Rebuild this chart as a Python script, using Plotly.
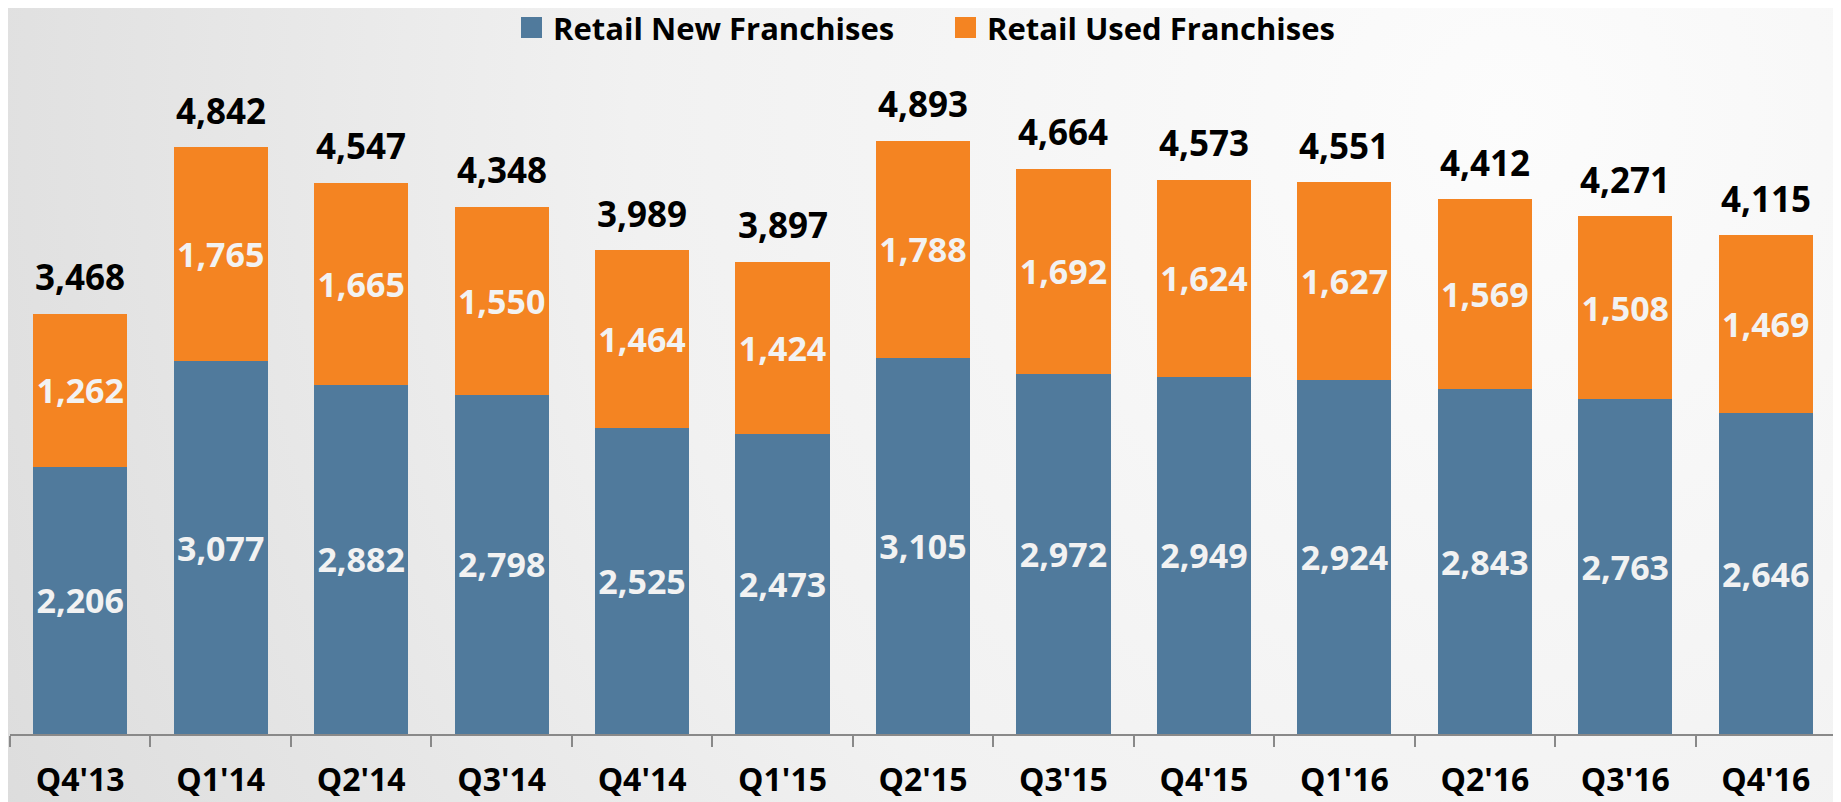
import base64
import plotly.graph_objects as go

quarters = ["Q4'13", "Q1'14", "Q2'14", "Q3'14", "Q4'14", "Q1'15", "Q2'15",
            "Q3'15", "Q4'15", "Q1'16", "Q2'16", "Q3'16", "Q4'16"]
retail_new = [2206, 3077, 2882, 2798, 2525, 2473, 3105, 2972, 2949, 2924, 2843, 2763, 2646]
retail_used = [1262, 1765, 1665, 1550, 1464, 1424, 1788, 1692, 1624, 1627, 1569, 1508, 1469]
totals = [3468, 4842, 4547, 4348, 3989, 3897, 4893, 4664, 4573, 4551, 4412, 4271, 4115]
series_names = ["Retail New Franchises", "Retail Used Franchises"]

BLUE = "#507A9C"
ORANGE = "#F48422"
FONT = "Open Sans, Lato, sans-serif"

# page body has an 8px margin, so the figure is sized to sit inside it
W, H = 1833, 794
ML, MR, MT, MB = 2, 5, 52, 68
PW, PH = W - ML - MR, H - MT - MB


def px_x(px):
    return (px - ML) / PW


def px_y(py):
    return (H - MB - py) / PH


# soft radial background like the slide
svg = """<svg xmlns='http://www.w3.org/2000/svg' width='1833' height='794' preserveAspectRatio='none'>
<defs><radialGradient id='g' gradientUnits='userSpaceOnUse' cx='1500' cy='110' r='1750'>
<stop offset='0' stop-color='#FCFCFC'/><stop offset='0.5' stop-color='#F1F1F1'/>
<stop offset='1' stop-color='#DADADA'/></radialGradient></defs>
<rect width='1833' height='794' fill='url(#g)'/></svg>"""
bg = "data:image/svg+xml;base64," + base64.b64encode(svg.encode()).decode()

fig = go.Figure()
for name, vals, col in [(series_names[0], retail_new, BLUE), (series_names[1], retail_used, ORANGE)]:
    fig.add_trace(go.Bar(
        x=quarters, y=vals, name=name, showlegend=False,
        marker_color=col, marker_line_width=0,
        text=[f"{v:,}" for v in vals], textposition="inside",
        insidetextanchor="middle", constraintext="none",
        textfont=dict(family=FONT, size=34, color="#F2F2F2", weight="bold"),
    ))

for q, t in zip(quarters, totals):
    fig.add_annotation(x=q, y=t, text=f"{t:,}", showarrow=False,
                       yanchor="middle", yshift=37,
                       font=dict(family=FONT, size=35, color="#000000", weight="bold"))

# legend drawn by hand so the square keys match the slide
for name, col, left in [(series_names[0], BLUE, 513), (series_names[1], ORANGE, 947)]:
    fig.add_shape(type="rect", xref="paper", yref="paper",
                  x0=px_x(left), x1=px_x(left + 21), y0=px_y(30), y1=px_y(9),
                  fillcolor=col, line_width=0)
    fig.add_annotation(xref="paper", yref="paper", x=px_x(left + 30), y=px_y(20),
                       xanchor="left", yanchor="middle", text=name, showarrow=False,
                       font=dict(family=FONT, size=31, color="#000000", weight="bold"))

fig.update_layout(
    width=W, height=H,
    barmode="stack", bargap=0.33,
    paper_bgcolor="#EEEEEE", plot_bgcolor="rgba(0,0,0,0)",
    margin=dict(l=ML, r=MR, t=MT, b=MB),
    images=[dict(source=bg, xref="paper", yref="paper",
                 x=-ML / PW, y=1 + MT / PH, sizex=W / PW, sizey=H / PH,
                 xanchor="left", yanchor="top", sizing="stretch", layer="below")],
    showlegend=False,
)
fig.update_xaxes(showline=True, linecolor="#898989", linewidth=2,
                 ticks="outside", ticklen=11, tickcolor="#898989", tickwidth=2,
                 tickson="boundaries", showgrid=False, automargin=False,
                 ticklabelstandoff=17,
                 tickfont=dict(family=FONT, size=32, color="#000000", weight="bold"))
fig.update_yaxes(visible=False, range=[0, 5560], automargin=False)

fig.write_html("out.html")
